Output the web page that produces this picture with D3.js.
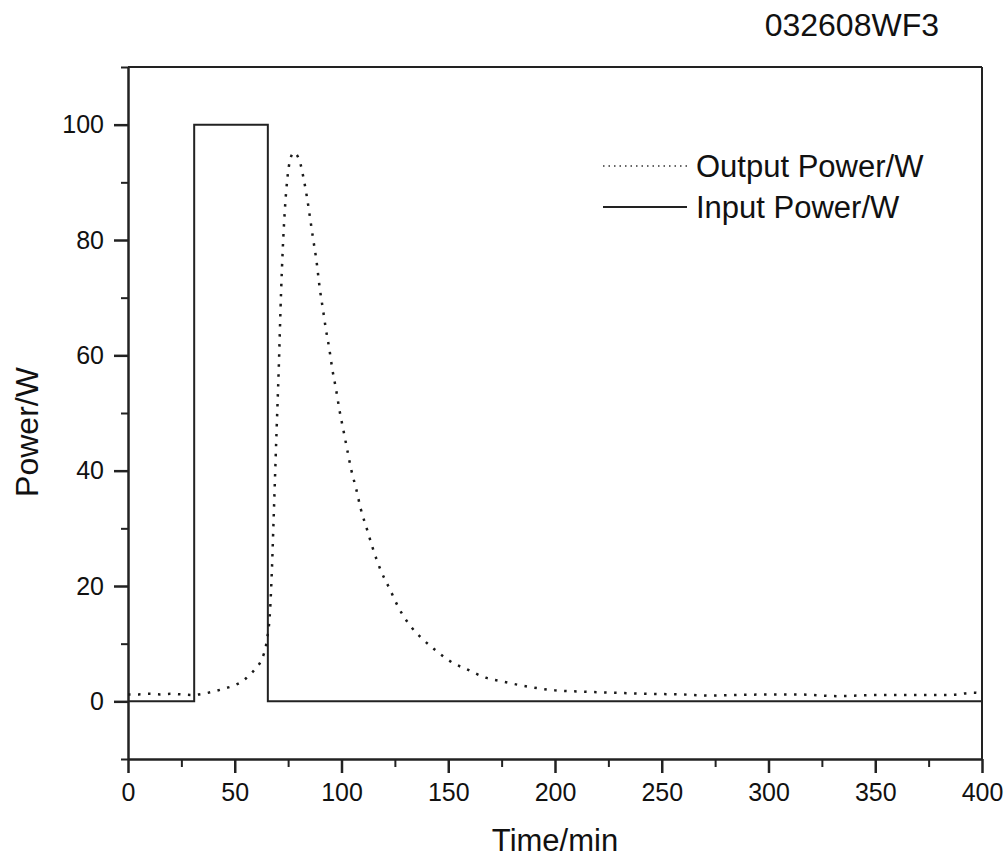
<!DOCTYPE html>
<html>
<head>
<meta charset="utf-8">
<script src="https://cdn.jsdelivr.net/npm/d3@7"></script>
<style>
  body { margin: 0; background: #fff; }
  text { font-family: "Liberation Sans", Arial, sans-serif; fill: #111; }
</style>
</head>
<body>
<svg id="chart" width="1007" height="859"></svg>
<script>
// input power (step)
const inputTime = [0, 31, 31, 65.5, 65.5, 400];
const inputPower = [0, 0, 100, 100, 0, 0];

// output power
const outputTime = [0, 5, 10, 15, 20, 25, 30, 35, 40, 45, 50, 54, 57, 60, 62.5, 65, 66.5, 67.4, 68.2, 69.6,
    70.6, 71.7, 72.5, 73.5, 74.6, 76, 77.7, 79, 80.4, 82.4, 84, 85.4, 86.8, 88.2, 89.9, 91.3, 92.7, 94.3,
    95.7, 97.4, 99, 100.8, 102.7, 104.6, 106.9, 109, 111.8, 114.6, 118.4, 122.7, 126.8, 131.8, 138, 143.9,
    151.1, 159.6, 167.5, 175.8, 188, 200, 212, 227, 243, 259, 273, 290, 313, 333, 350, 370, 385, 396, 400];
const outputPower = [1.2, 1.2, 1.3, 1.2, 1.3, 1.2, 1.1, 1.3, 1.7, 2.2, 2.8, 3.6, 4.6, 5.8, 7.2, 10.5, 15.5, 22.8, 31.5, 47,
    57.6, 71, 78.5, 85.4, 90.5, 94, 95.2, 94.8, 93.7, 90.4, 87, 83.5, 80, 76.6, 71.4, 68, 64.5, 61.1,
    57.6, 54.2, 50.6, 47.2, 43.6, 40.1, 36.8, 33.4, 30, 26.6, 22.7, 19.4, 16.2, 13.3, 10.8, 8.9,
    6.9, 5.4, 4.1, 3.4, 2.5, 1.9, 1.7, 1.5, 1.3, 1.2, 1.0, 1.15, 1.2, 0.9, 1.1, 1.1, 1.1, 1.5, 1.3];

const xMajor = [0, 50, 100, 150, 200, 250, 300, 350, 400];
const xMinor = [25, 75, 125, 175, 225, 275, 325, 375];
const yMajor = [0, 20, 40, 60, 80, 100];
const yMinor = [-10, 10, 30, 50, 70, 90, 110];

const seriesNames = ["Output Power/W", "Input Power/W"];

let svg = d3.select("#chart");

let plotLeft = 128, plotRight = 982, plotTop = 67, plotBottom = 759;

let x = d3.scaleLinear().domain([0, 400]).range([plotLeft, plotRight]);
let y = d3.scaleLinear().domain([-10, 110]).range([plotBottom, plotTop]);

svg.append("clipPath").attr("id", "clip")
    .append("rect")
    .attr("x", plotLeft).attr("y", plotTop)
    .attr("width", plotRight - plotLeft).attr("height", plotBottom - plotTop);

// frame top and right
svg.append("line").attr("x1", plotLeft).attr("x2", plotRight).attr("y1", plotTop).attr("y2", plotTop)
    .attr("stroke", "#222").attr("stroke-width", 2);
svg.append("line").attr("x1", plotRight).attr("x2", plotRight).attr("y1", plotTop).attr("y2", plotBottom)
    .attr("stroke", "#222").attr("stroke-width", 2);

// minor ticks
svg.append("g").attr("transform", `translate(0,${plotBottom})`)
    .call(d3.axisBottom(x).tickValues(xMinor).tickSize(8).tickFormat("").tickSizeOuter(0))
    .call(g => g.select(".domain").remove())
    .selectAll("line").attr("stroke", "#222").attr("stroke-width", 2);
svg.append("g").attr("transform", `translate(${plotLeft},0)`)
    .call(d3.axisLeft(y).tickValues(yMinor).tickSize(7).tickFormat("").tickSizeOuter(0))
    .call(g => g.select(".domain").remove())
    .selectAll("line").attr("stroke", "#222").attr("stroke-width", 2);

// major ticks + labels
let xAxis = svg.append("g").attr("transform", `translate(0,${plotBottom})`)
    .call(d3.axisBottom(x).tickValues(xMajor).tickSize(14).tickPadding(10).tickSizeOuter(0));
xAxis.select(".domain").attr("stroke", "#222").attr("stroke-width", 2.5);
xAxis.selectAll(".tick line").attr("stroke", "#222").attr("stroke-width", 2.5);
xAxis.selectAll(".tick text").attr("font-size", 25).attr("fill", "#111")
    .style("font-family", "'Liberation Sans', Arial, sans-serif");

let yAxis = svg.append("g").attr("transform", `translate(${plotLeft},0)`)
    .call(d3.axisLeft(y).tickValues(yMajor).tickSize(14).tickPadding(10).tickSizeOuter(0));
yAxis.select(".domain").attr("stroke", "#222").attr("stroke-width", 2.5);
yAxis.selectAll(".tick line").attr("stroke", "#222").attr("stroke-width", 2.5);
yAxis.selectAll(".tick text").attr("font-size", 25).attr("fill", "#111")
    .style("font-family", "'Liberation Sans', Arial, sans-serif");

// lines
let plot = svg.append("g").attr("clip-path", "url(#clip)");

let inputLine = d3.line().x(d => x(d[0])).y(d => y(d[1]));
plot.append("path")
    .datum(d3.zip(inputTime, inputPower))
    .attr("d", inputLine)
    .attr("fill", "none").attr("stroke", "#222").attr("stroke-width", 2);

let outputLine = d3.line().x(d => x(d[0])).y(d => y(d[1])).curve(d3.curveMonotoneX);
plot.append("path")
    .datum(d3.zip(outputTime, outputPower))
    .attr("d", outputLine)
    .attr("fill", "none").attr("stroke", "#1a1a1a").attr("stroke-width", 2.5)
    .attr("stroke-dasharray", "2.5 7.5");

// legend
let legend = svg.append("g");
legend.append("line").attr("x1", 603).attr("x2", 687).attr("y1", 166).attr("y2", 166)
    .attr("stroke", "#333").attr("stroke-width", 1.5).attr("stroke-dasharray", "1.5 4");
legend.append("text").attr("x", 696).attr("y", 177).attr("font-size", 31).text(seriesNames[0]);
legend.append("line").attr("x1", 603).attr("x2", 687).attr("y1", 207).attr("y2", 207)
    .attr("stroke", "#222").attr("stroke-width", 2);
legend.append("text").attr("x", 696).attr("y", 218).attr("font-size", 31).text(seriesNames[1]);

// titles
svg.append("text").attr("x", 939).attr("y", 36).attr("text-anchor", "end")
    .attr("font-size", 32).text("032608WF3");

svg.append("text").attr("x", (plotLeft + plotRight) / 2).attr("y", 851).attr("text-anchor", "middle")
    .attr("font-size", 31).text("Time/min");

svg.append("text").attr("transform", "translate(38,432) rotate(-90)").attr("text-anchor", "middle")
    .attr("font-size", 32).text("Power/W");
</script>
</body>
</html>
